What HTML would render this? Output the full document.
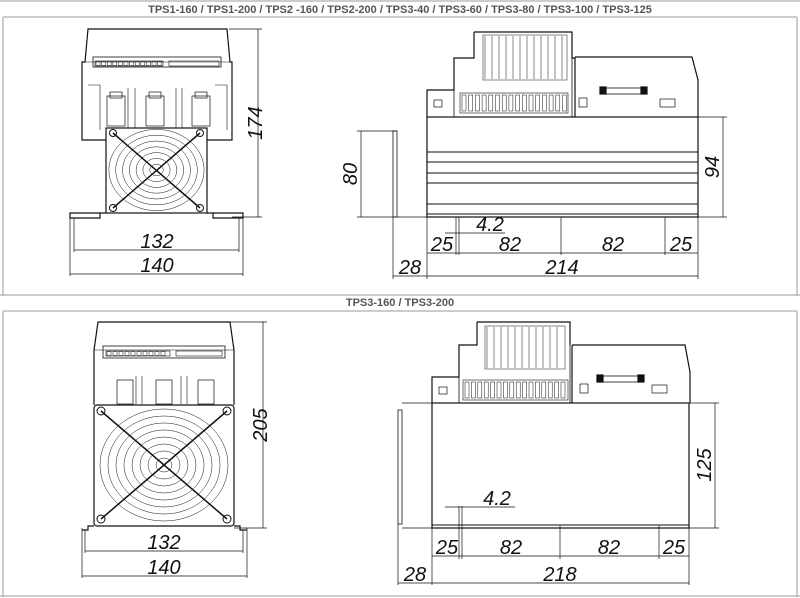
<!DOCTYPE html>
<html><head><meta charset="utf-8"><style>
html,body{margin:0;padding:0;background:#fff;width:800px;height:598px;overflow:hidden}
svg{display:block}
.t{font-family:"Liberation Sans",sans-serif;font-weight:bold;font-size:11px;fill:#555}
.d{font-family:"Liberation Sans",sans-serif;font-style:italic;font-size:20px;fill:#111}
</style></head><body>
<svg id="s" width="800" height="598" viewBox="0 0 800 598" xmlns="http://www.w3.org/2000/svg">
<g fill="none" stroke="#bbb" stroke-width="1.5">
<line x1="0" y1="1" x2="800" y2="1"/>
<line x1="3" y1="17" x2="797" y2="17"/>
<line x1="3" y1="17" x2="3" y2="296"/>
<line x1="797" y1="17" x2="797" y2="296"/>
<line x1="0" y1="295" x2="800" y2="295"/>
<line x1="3" y1="311" x2="797" y2="311"/>
<line x1="3" y1="311" x2="3" y2="597"/>
<line x1="797" y1="311" x2="797" y2="597"/>
<line x1="0" y1="596" x2="800" y2="596"/>
</g>
<text class="t" x="400" y="13" text-anchor="middle">TPS1-160 / TPS1-200 / TPS2 -160 / TPS2-200 / TPS3-40 / TPS3-60 / TPS3-80 / TPS3-100 / TPS3-125</text>
<text class="t" x="400" y="306" text-anchor="middle">TPS3-160 / TPS3-200</text>

<g id="g" fill="none" stroke="#111" stroke-width="1.2">
<!-- TOP LEFT -->
<path d="M106 140 L82 140 L82 62 L85 62 L88 29 L227 29 L230 62 L232 62 L232 140 L207 140"/>
<line x1="85" y1="62" x2="230" y2="62" stroke-width="0.6"/>
<rect x="93" y="57" width="128" height="10" stroke-width="0.8"/>
<rect x="95" y="61" width="68" height="5" stroke-width="0.6"/>
<rect x="169" y="61" width="50" height="5" stroke-width="0.6"/>
<path d="M88 85 L100 85 L100 130 M215 85 L227 85 L227 130 M128 88 L128 128 M176 88 L176 128 M135 88 L135 128 M182 88 L182 128" stroke-width="0.6"/>
<rect x="107" y="96" width="18" height="30" stroke-width="0.7"/>
<rect x="146" y="96" width="18" height="30" stroke-width="0.7"/>
<rect x="192" y="96" width="18" height="30" stroke-width="0.7"/>
<rect x="110" y="92" width="12" height="6" stroke-width="0.7"/>
<rect x="149" y="92" width="12" height="6" stroke-width="0.7"/>
<rect x="195" y="92" width="12" height="6" stroke-width="0.7"/>
<rect x="106" y="128" width="101" height="85"/>
<path d="M106 213 L100 213 L100 218 L70 218 L70 213 L100 213 M207 213 L213 213 L213 218 L243 218 L243 213 L213 213" />
<line x1="113" y1="133" x2="200" y2="208" stroke-width="1.5"/>
<line x1="200" y1="133" x2="113" y2="208" stroke-width="1.5"/>
<g stroke-width="0.7">
<line x1="229" y1="29" x2="262" y2="29"/><line x1="232" y1="217" x2="262" y2="217"/>
<line x1="258" y1="29" x2="258" y2="217"/>
<line x1="70" y1="213" x2="70" y2="276"/><line x1="243" y1="213" x2="243" y2="276"/>
<line x1="74" y1="218" x2="74" y2="252"/><line x1="239" y1="218" x2="239" y2="252"/>
<line x1="74" y1="250" x2="239" y2="250"/><line x1="70" y1="274" x2="243" y2="274"/>
</g>

<!-- TOP RIGHT -->
<path d="M474 32 L572 32 L572 58 L575 58 M474 32 L474 58 L454 58 L454 90 L427 90 L427 117"/>
<path d="M575 57 L692 57 L698 80 L698 117 M575 57 L575 117"/>
<path d="M454 90 L454 117 M572 58 L572 117" stroke-width="0.8"/>
<rect x="460" y="93" width="108" height="20" stroke-width="0.6"/>
<rect x="483" y="35" width="84" height="45" stroke-width="0.5"/>
<rect x="603" y="88" width="40" height="6" stroke-width="0.8"/>
<rect x="600" y="87" width="6" height="7" fill="#111"/>
<rect x="641" y="87" width="6" height="7" fill="#111"/>
<rect x="434" y="100" width="8" height="7" stroke-width="0.7"/>
<rect x="579" y="98" width="8" height="9" stroke-width="0.7"/>
<rect x="660" y="99" width="15" height="8" stroke-width="0.7"/>
<rect x="427" y="117" width="271" height="100"/>
<path d="M427 152 L698 152 M427 162 L698 162 M427 173 L698 173 M427 183 L698 183 M427 204 L698 204 M427 214 L698 214" stroke-width="1.1"/>
<rect x="393" y="131" width="4" height="86" stroke-width="0.8"/>
<g stroke-width="0.7">
<line x1="357" y1="131" x2="397" y2="131"/><line x1="357" y1="217" x2="427" y2="217"/>
<line x1="361" y1="131" x2="361" y2="217"/>
<line x1="698" y1="117" x2="727" y2="117"/><line x1="698" y1="217" x2="727" y2="217"/>
<line x1="723" y1="117" x2="723" y2="217"/>
<line x1="393" y1="217" x2="393" y2="279"/><line x1="427" y1="217" x2="427" y2="279"/>
<line x1="698" y1="217" x2="698" y2="279"/>
<line x1="456" y1="217" x2="456" y2="255"/><line x1="459" y1="217" x2="459" y2="255"/>
<line x1="561" y1="217" x2="561" y2="255"/><line x1="665" y1="217" x2="665" y2="255"/>
<line x1="445" y1="233" x2="505" y2="233"/>
<line x1="427" y1="253" x2="698" y2="253"/>
<line x1="393" y1="276" x2="698" y2="276"/>
</g>

<!-- BOTTOM LEFT -->
<path d="M94 405 L94 350 L98 322 L230 322 L234 350 L234 405"/>
<path d="M94 350 L234 350" stroke-width="0.6"/>
<rect x="103" y="346" width="122" height="12" stroke-width="0.8"/>
<rect x="106" y="351" width="64" height="5" stroke-width="0.6"/>
<rect x="176" y="351" width="46" height="5" stroke-width="0.6"/>
<rect x="117" y="380" width="16" height="24" stroke-width="0.7"/>
<rect x="156" y="380" width="16" height="24" stroke-width="0.7"/>
<rect x="198" y="380" width="16" height="24" stroke-width="0.7"/>
<path d="M136 376 L136 404 M142 376 L142 404 M181 376 L181 404 M187 376 L187 404" stroke-width="0.6"/>
<rect x="94" y="405" width="140" height="121" rx="3"/>
<path d="M94 526 L88 526 L88 530 L82 530 M234 526 L240 526 L240 530 L247 530" />
<line x1="101" y1="411" x2="227" y2="519" stroke-width="1.5"/>
<line x1="227" y1="411" x2="101" y2="519" stroke-width="1.5"/>
<g stroke-width="0.7">
<line x1="230" y1="322" x2="267" y2="322"/><line x1="234" y1="528" x2="267" y2="528"/>
<line x1="263" y1="322" x2="263" y2="528"/>
<line x1="82" y1="528" x2="82" y2="578"/><line x1="247" y1="528" x2="247" y2="578"/>
<line x1="85" y1="530" x2="85" y2="553"/><line x1="243" y1="530" x2="243" y2="553"/>
<line x1="85" y1="551" x2="243" y2="551"/><line x1="82" y1="576" x2="247" y2="576"/>
</g>

<!-- BOTTOM RIGHT -->
<path d="M477 322 L570 322 L570 345 M477 322 L477 345 L459 345 L459 377 L432 377 L432 403"/>
<path d="M572 345 L685 345 L690 372 L690 403 M572 345 L572 403"/>
<path d="M459 377 L459 403 M570 345 L570 403" stroke-width="0.8"/>
<rect x="463" y="380" width="105" height="20" stroke-width="0.6"/>
<rect x="485" y="326" width="80" height="43" stroke-width="0.5"/>
<rect x="600" y="376" width="40" height="6" stroke-width="0.8"/>
<rect x="597" y="375" width="6" height="7" fill="#111"/>
<rect x="638" y="375" width="6" height="7" fill="#111"/>
<rect x="439" y="387" width="8" height="7" stroke-width="0.7"/>
<rect x="580" y="384" width="8" height="9" stroke-width="0.7"/>
<rect x="652" y="385" width="15" height="8" stroke-width="0.7"/>
<rect x="432" y="403" width="257" height="125"/>
<line x1="432" y1="525" x2="689" y2="525" stroke-width="1"/>
<rect x="398" y="410" width="4" height="114" stroke-width="0.8"/>
<line x1="402" y1="403" x2="432" y2="403" stroke-width="0.7"/>
<line x1="402" y1="528" x2="432" y2="528" stroke-width="0.7"/>
<g stroke-width="0.7">
<line x1="689" y1="403" x2="719" y2="403"/><line x1="689" y1="528" x2="719" y2="528"/>
<line x1="715" y1="403" x2="715" y2="528"/>
<line x1="398" y1="524" x2="398" y2="585"/><line x1="432" y1="528" x2="432" y2="585"/>
<line x1="689" y1="528" x2="689" y2="585"/>
<line x1="459" y1="506" x2="459" y2="559"/><line x1="462" y1="506" x2="462" y2="559"/>
<line x1="560" y1="525" x2="560" y2="559"/><line x1="659" y1="525" x2="659" y2="559"/>
<line x1="445" y1="507" x2="515" y2="507"/>
<line x1="432" y1="556" x2="689" y2="556"/>
<line x1="398" y1="583" x2="689" y2="583"/>
</g>
</g>

<g>
<text class="d" x="157" y="248" text-anchor="middle">132</text>
<text class="d" x="157" y="272" text-anchor="middle">140</text>
<text class="d" transform="translate(262 123) rotate(-90)" text-anchor="middle">174</text>
<text class="d" transform="translate(357 174) rotate(-90)" text-anchor="middle">80</text>
<text class="d" transform="translate(719 167) rotate(-90)" text-anchor="middle">94</text>
<text class="d" x="490" y="231" text-anchor="middle">4.2</text>
<text class="d" x="442" y="251" text-anchor="middle">25</text>
<text class="d" x="510" y="251" text-anchor="middle">82</text>
<text class="d" x="613" y="251" text-anchor="middle">82</text>
<text class="d" x="681" y="251" text-anchor="middle">25</text>
<text class="d" x="410" y="274" text-anchor="middle">28</text>
<text class="d" x="562" y="274" text-anchor="middle">214</text>

<text class="d" x="164" y="549" text-anchor="middle">132</text>
<text class="d" x="164" y="574" text-anchor="middle">140</text>
<text class="d" transform="translate(267 425) rotate(-90)" text-anchor="middle">205</text>
<text class="d" transform="translate(711 465) rotate(-90)" text-anchor="middle">125</text>
<text class="d" x="497" y="505" text-anchor="middle">4.2</text>
<text class="d" x="447" y="554" text-anchor="middle">25</text>
<text class="d" x="511" y="554" text-anchor="middle">82</text>
<text class="d" x="609" y="554" text-anchor="middle">82</text>
<text class="d" x="674" y="554" text-anchor="middle">25</text>
<text class="d" x="415" y="581" text-anchor="middle">28</text>
<text class="d" x="560" y="581" text-anchor="middle">218</text>
</g>
</svg>
<script>
(function(){
var s=document.getElementById('g'),NS='http://www.w3.org/2000/svg';
function el(t,a){var e=document.createElementNS(NS,t);for(var k in a)e.setAttribute(k,a[k]);s.appendChild(e);}
for(var i=1;i<=7;i++){el('ellipse',{cx:156.5,cy:170,rx:i*6.8,ry:i*5.8,'stroke-width':0.5});}
for(var i=1;i<=8;i++){el('ellipse',{cx:164,cy:465,rx:i*8,ry:i*7,'stroke-width':0.5});}
[[113,133],[200,133],[113,208],[200,208]].forEach(function(p){el('circle',{cx:p[0],cy:p[1],r:3.5,'stroke-width':1});});
[[101,411],[227,411],[101,519],[227,519]].forEach(function(p){el('circle',{cx:p[0],cy:p[1],r:4,'stroke-width':1});});
for(var i=0;i<12;i++){el('line',{x1:485+i*7,y1:36,x2:485+i*7,y2:79,'stroke-width':0.5});}
for(var i=0;i<16;i++){el('rect',{x:462+i*6.7,y:95,width:4,height:16,'stroke-width':0.5});}
for(var i=0;i<11;i++){el('line',{x1:487+i*7,y1:327,x2:487+i*7,y2:368,'stroke-width':0.5});}
for(var i=0;i<16;i++){el('rect',{x:465+i*6.4,y:382,width:4,height:16,'stroke-width':0.5});}
for(var i=0;i<12;i++){el('rect',{x:96+i*5.6,y:61.5,width:4,height:4,'stroke-width':0.5});}
for(var i=0;i<10;i++){el('rect',{x:107+i*6,y:351.5,width:4,height:4,'stroke-width':0.5});}
})();
</script>
</body></html>
